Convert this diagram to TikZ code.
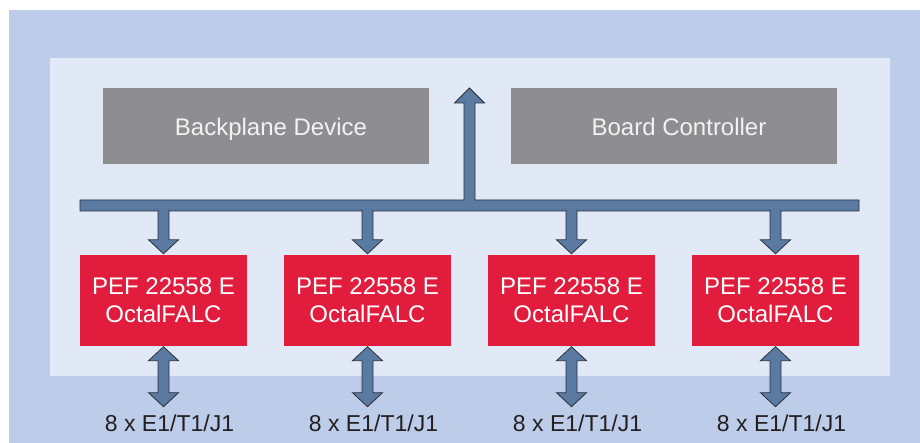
\documentclass[tikz,border=0pt]{standalone}
\usepackage{fontspec}
\setmainfont{Liberation Sans}
\usetikzlibrary{calc}

\definecolor{outerblue}{HTML}{BDCCE9}
\definecolor{innerblue}{HTML}{E1E8F6}
\definecolor{unitgray}{HTML}{8E8E90}
\definecolor{unittext}{HTML}{F2F2F2}
\definecolor{falcred}{HTML}{E11C3C}
\definecolor{busblue}{HTML}{5A7AA2}
\definecolor{busline}{HTML}{2B313C}
\definecolor{labeltext}{HTML}{231F20}

\begin{document}
\begin{tikzpicture}[x=1pt, y=-1pt,
	unit/.style={fill=unitgray, text=unittext, minimum width=326pt, minimum height=76pt, inner sep=0pt, text height=20pt, text depth=0pt,
		execute at begin node=\hspace*{10pt}, font=\fontsize{24}{28}\selectfont},
	falc/.style={fill=falcred, text=white, minimum width=167pt, minimum height=91pt, inner sep=0pt, align=center, font=\fontsize{24}{28}\selectfont},
	port/.style={text=labeltext, anchor=base, inner sep=0pt, font=\fontsize{23}{28}\selectfont},
	busarrow/.style={fill=busblue, draw=busline, line width=0.8pt, line join=miter}]

	\def\bustop{200}
	\def\busbot{211}
	\def\shaft{5.5}
	\def\head{15}

	\useasboundingbox (0,0) rectangle (920,443);
	\fill[outerblue] (9,10) rectangle (920,443);
	\fill[innerblue] (50,58) rectangle (890,376);

	\node[unit] (backplane) at (266,126) {Backplane Device};
	\node[unit] (controller) at (674,126) {Board Controller};

	% bus with the uplink
	\coordinate (uplink) at (469.5,88);
	\draw[busarrow] (80,\bustop) -- ($(uplink |- 0,\bustop)+(-\shaft,0)$) -- ($(uplink)+(-\shaft,15)$) -- ($(uplink)+(-\head,15)$) -- (uplink)
		-- ($(uplink)+(\head,15)$) -- ($(uplink)+(\shaft,15)$) -- ($(uplink |- 0,\bustop)+(\shaft,0)$) -- (859,\bustop) -- (859,\busbot) -- (80,\busbot) -- cycle;

	\foreach \i/\x in {1/163.5, 2/367.5, 3/571.5, 4/775.5} {
		\node[falc] (falc\i) at (\x,300.5) {PEF 22558 E\\OctalFALC};
		\node[port] (line\i) at (\x+6,431.7) {8 x E1/T1/J1};
		% drop from the bus
		\draw[busarrow] ($(falc\i.north)+(-\shaft,-45)$) -- ++(0,30) -- ++(-\head+\shaft,0) -- ($(falc\i.north)+(0,-1)$)
			-- ($(falc\i.north)+(\head,-15)$) -- ++(-\head+\shaft,0) -- ++(0,-30);
		% line side
		\draw[busarrow] ($(falc\i.south)+(0,0.5)$) -- ++(\head,14) -- ++(-\head+\shaft,0) -- ++(0,32) -- ++(\head-\shaft,0) -- ++(-\head,14)
			-- ++(-\head,-14) -- ++(\head-\shaft,0) -- ++(0,-32) -- ++(-\head+\shaft,0) -- cycle;
	}

\end{tikzpicture}
\end{document}
